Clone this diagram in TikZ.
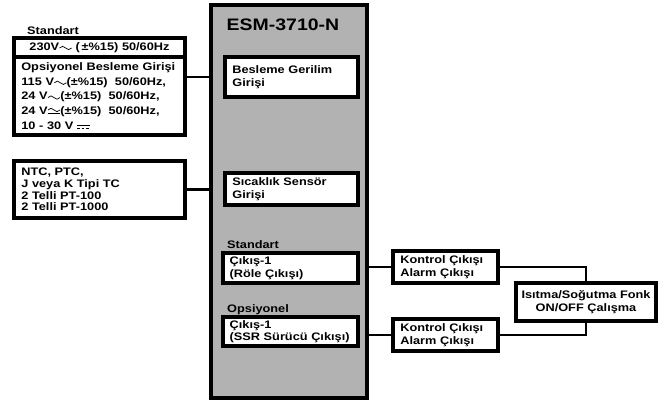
\documentclass[tikz,border=0pt]{standalone}
\usepackage{fontspec}
\setmainfont{Liberation Sans}[FakeStretch=1.17]
\usetikzlibrary{positioning}

% small supply symbols
\newcommand{\acsym}{\tikz[baseline=0pt,x=1cm,y=1cm,line width=0.6pt]
  \draw (0,0.07) sin (0.09,0.12) cos (0.18,0.07) sin (0.27,0.02) cos (0.36,0.07);}
\newcommand{\acdcsym}{\tikz[baseline=0pt,x=1cm,y=1cm,line width=0.6pt]
  {\draw (0,0.14) sin (0.09,0.19) cos (0.18,0.14) sin (0.27,0.09) cos (0.36,0.14);
   \draw (0,0.05) -- (0.36,0.05);}}
\newcommand{\dcsym}{\tikz[baseline=0pt,x=1cm,y=1cm,line width=0.6pt]
  {\draw (0,0.12) -- (0.38,0.12);
   \draw[dash pattern=on 0.08cm off 0.05cm] (0,0.03) -- (0.38,0.03);}}
\newcommand{\lbl}{\fontsize{9.3}{10.6}\selectfont\bfseries}

\begin{document}
\begin{tikzpicture}[x=0.03cm, y=-0.03cm]
    \tikzset{
      box/.style={draw, line width=3.1pt, fill=white, inner ysep=0pt,
        inner xsep=0.22cm, align=left, font=\lbl},
      mainbox/.style={draw, line width=3.2pt, fill=black!30},
      tag/.style={anchor=west, inner sep=0pt, font=\lbl},
      wire/.style={line width=2.4pt},
    }
    \useasboundingbox (0,0) rectangle (659,401);

    % device
    \node[mainbox, minimum width=4.68cm, minimum height=11.79cm] (esm) at (289,201.5) {};
    \node[font=\fontsize{14.2}{15}\selectfont\bfseries] (title) at (283,25) {ESM-3710-N};
    \node[box, text width=3.55cm, minimum height=1.2cm] (besleme) at (291.5,77)
      {Besleme Gerilim\\Girişi};
    \node[box, text width=3.55cm, minimum height=0.96cm] (sicaklik) at (291.5,189)
      {Sıcaklık Sensör\\Girişi};
    \node[tag] (std2) at (227,245) {Standart};
    \node[box, inner xsep=0.2cm, text width=3.65cm, minimum height=0.9cm] (cikis1) at (290.5,268)
      {Çıkış-1\\(Röle Çıkışı)};
    \node[tag] (ops) at (227,310) {Opsiyonel};
    \node[box, inner xsep=0.2cm, text width=3.65cm, minimum height=0.87cm] (cikis2) at (290.5,331.5)
      {Çıkış-1\\(SSR Sürücü Çıkışı)};

    % inputs
    \node[tag] (std1) at (27,31) {Standart};
    \node[box, align=center, text width=4.69cm, minimum height=0.57cm] (std230) at (99.5,47.5)
      {230V\acsym\ (\,±\%15) 50/60Hz};
    \node[box, text width=4.69cm, minimum height=2.34cm,
      font=\fontsize{9.3}{12.6}\selectfont\bfseries] (opsbes) at (99.5,96)
      {Opsiyonel Besleme Girişi\\
       115 V\acsym(±\%15)\ \ 50/60Hz,\\
       24 V\acsym(±\%15)\ \ 50/60Hz,\\
       24 V\acdcsym(±\%15)\ \ 50/60Hz,\\
       10 - 30 V \dcsym};
    \node[box, text width=4.69cm, minimum height=1.71cm,
      font=\fontsize{9.3}{10}\selectfont\bfseries] (ntc) at (99.5,189.5)
      {NTC, PTC,\\J veya K Tipi TC\\2 Telli PT-100\\2 Telli PT-1000};

    % outputs
    \node[box, text width=2.71cm, minimum height=0.96cm] (kontrol1) at (445.5,267)
      {Kontrol Çıkışı\\Alarm Çıkışı};
    \node[box, text width=2.71cm, minimum height=0.96cm] (kontrol2) at (445.5,335)
      {Kontrol Çıkışı\\Alarm Çıkışı};
    \node[box, align=center, inner xsep=0.1cm, text width=4cm, minimum height=1.14cm] (isitma) at (586,302)
      {Isıtma/Soğutma Fonk\\ON/OFF Çalışma};

    % links
    \draw[wire] (opsbes.east |- besleme) -- (esm.west |- besleme);
    \draw[wire] (ntc.east) -- (ntc.east -| esm.west);
    \draw[wire] (kontrol1.west -| esm.east) -- (kontrol1.west);
    \draw[wire] (kontrol2.west -| esm.east) -- (kontrol2.west);
    \draw[wire] (kontrol1.east) -| (isitma.north);
    \draw[wire] (kontrol2.east) -| (isitma.south);
\end{tikzpicture}
\end{document}
